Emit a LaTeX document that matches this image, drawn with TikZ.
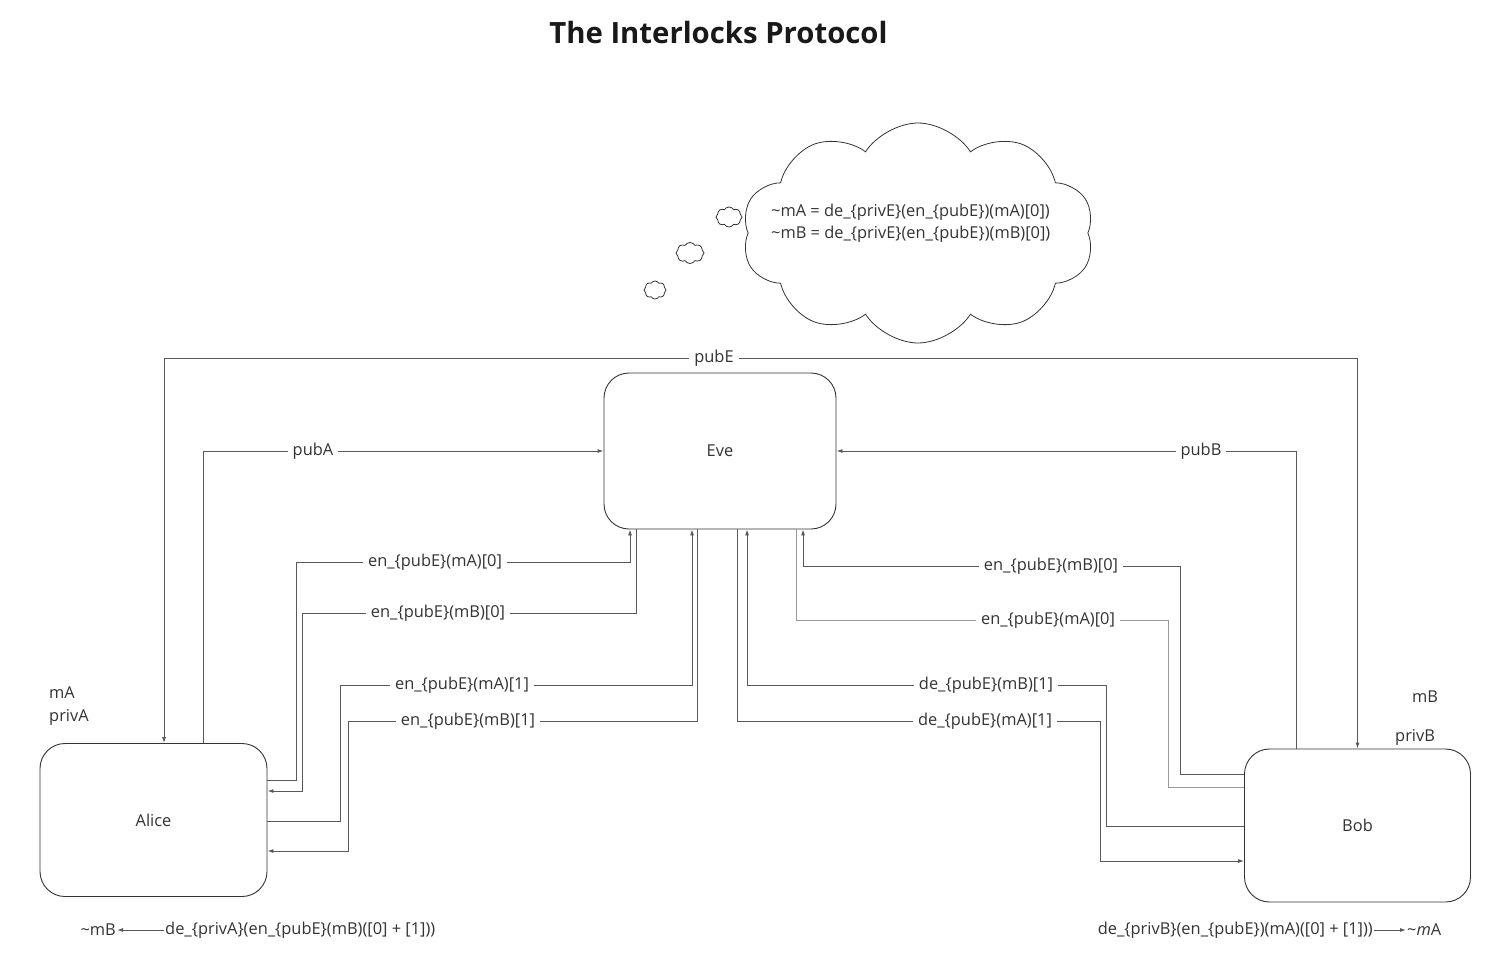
\documentclass[tikz,border=0pt]{standalone}
\usepackage{fontspec}
\setmainfont{Open Sans}
\usetikzlibrary{arrows.meta,shapes.symbols,calc}
\tikzset{
  box/.style={draw=black!80, line width=0.9pt, rounded corners=25pt, fill=white},
  conn/.style={draw=black!65, line width=0.9pt},
  lightconn/.style={draw=black!40, line width=0.9pt},
  arr/.style={-{Latex[length=6pt,width=4pt]}},
  lbl/.style={fill=white, inner xsep=5pt, inner ysep=1pt, text=black!80},
  txt/.style={text=black!80, inner sep=2pt},
  puff/.style={cloud, draw=black!80, line width=0.8pt, cloud ignores aspect, inner sep=0pt},
}
\begin{document}
\begin{tikzpicture}[x=1pt,y=-1pt, font=\fontsize{16.4}{20}\selectfont]
\useasboundingbox (0,0) rectangle (1512,975);

% title
\node[font=\bfseries\fontsize{29.3}{35}\selectfont, text=black!90] (title) at (718.5,33) {The Interlocks Protocol};

% boxes
\node[box, minimum width=232pt, minimum height=156pt] (Eve) at (720,451) {};
\node[txt] at (Eve.center) {Eve};
\node[box, minimum width=227pt, minimum height=153pt] (Alice) at (153.5,820) {};
\node[txt] at (Alice.center) {Alice};
\node[box, minimum width=226pt, minimum height=153pt] (Bob) at (1357.5,825.5) {};
\node[txt] at (Bob.center) {Bob};

% thought cloud
\node[puff, cloud puffs=10, cloud puff arc=115, minimum width=352pt, minimum height=220pt] (thought) at (918,233) {};
\node[puff, cloud puffs=8, cloud puff arc=120, minimum width=26pt, minimum height=20pt] (p1) at (729,217) {};
\node[puff, cloud puffs=8, cloud puff arc=120, minimum width=28pt, minimum height=21pt] (p2) at (690,253) {};
\node[puff, cloud puffs=8, cloud puff arc=120, minimum width=22pt, minimum height=18pt] (p3) at (655,290) {};
\node[txt, align=left, font=\fontsize{16.4}{22}\selectfont, anchor=west] (thoughttext) at (769,223)
  {\textasciitilde mA = de\_\{privE\}(en\_\{pubE\})(mA)[0])\\ \textasciitilde mB = de\_\{privE\}(en\_\{pubE\})(mB)[0])};

% pubE
\node[lbl] (pubE) at (714,358) {pubE};
\draw[conn,arr] (pubE.west) -| (164,0 |- Alice.north);
\draw[conn,arr] (pubE.east) -| (Bob.north);

% pubA / pubB
\draw[conn,arr] (203,0 |- Alice.north) |- (Eve.west);
\node[lbl] (pubA) at (313,451) {pubA};
\draw[conn,arr] (1296,0 |- Bob.north) |- (Eve.east);
\node[lbl] (pubB) at (1201,451) {pubB};

% Alice side
\draw[conn,arr] (Alice.east |- 0,780) -| (296,562) -| (630,0 |- Eve.south);
\node[lbl] (l1) at (435,562) {en\_\{pubE\}(mA)[0]};
\draw[conn,arr] (636,0 |- Eve.south) |- (302,613) |- (Alice.east |- 0,791);
\node[lbl] (l2) at (438,613) {en\_\{pubE\}(mB)[0]};
\draw[conn,arr] (Alice.east |- 0,821) -| (340,685) -| (692,0 |- Eve.south);
\node[lbl] (l3) at (462,685) {en\_\{pubE\}(mA)[1]};
\draw[conn,arr] (697,0 |- Eve.south) |- (348,721) |- (Alice.east |- 0,851);
\node[lbl] (l4) at (468,721) {en\_\{pubE\}(mB)[1]};

% Bob side
\draw[conn,arr] (Bob.west |- 0,774) -| (1180,566) -| (803,0 |- Eve.south);
\node[lbl] (r1) at (1051,566) {en\_\{pubE\}(mB)[0]};
\draw[lightconn] (796,0 |- Eve.south) |- (1168,620) |- (Bob.west |- 0,787);
\node[lbl] (r2) at (1048,620) {en\_\{pubE\}(mA)[0]};
\draw[conn,arr] (Bob.west |- 0,826) -| (1106,685) -| (747,0 |- Eve.south);
\node[lbl] (r3) at (986,685) {de\_\{pubE\}(mB)[1]};
\draw[conn,arr] (737,0 |- Eve.south) |- (1100,721) |- (Bob.west |- 0,861);
\node[lbl] (r4) at (985,721) {de\_\{pubE\}(mA)[1]};

% side labels
\node[txt, anchor=west] (mA) at (47,693) {mA};
\node[txt, anchor=west] (privA) at (47,717) {privA};
\node[txt, anchor=west] (mB) at (1410,697) {mB};
\node[txt, anchor=west] (privB) at (1393,737) {privB};

% bottom results
\node[txt, anchor=west, inner sep=1pt] (deA) at (164,930) {de\_\{privA\}(en\_\{pubE\}(mB)([0] + [1]))};
\node[txt, anchor=east, inner sep=1pt] (tmB) at (117,930) {\textasciitilde mB};
\draw[conn,arr] (deA.west) -- (tmB.east);
\node[txt, anchor=east, inner sep=1pt] (deB) at (1374,930) {de\_\{privB\}(en\_\{pubE\})(mA)([0] + [1]))};
\node[txt, anchor=west, inner sep=1pt] (tmA) at (1406,930) {\textasciitilde\textit{m}A};
\draw[conn,arr] (deB.east) -- (tmA.west);
\end{tikzpicture}
\end{document}
